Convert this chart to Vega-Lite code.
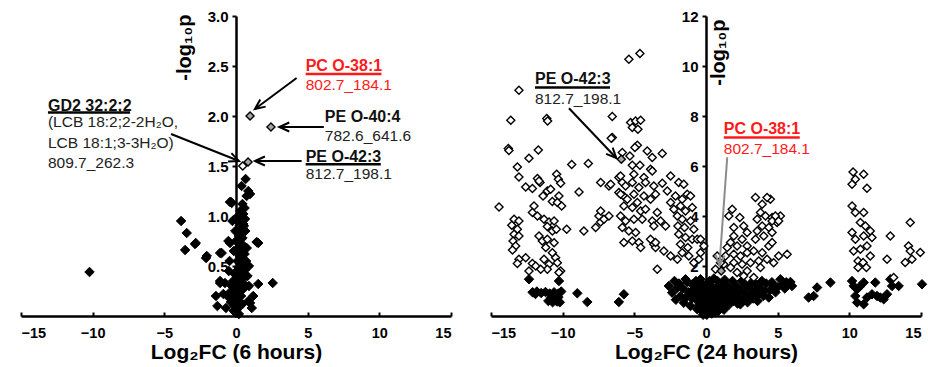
{
  "$schema": "https://vega.github.io/schema/vega-lite/v6.json",
  "padding": {"left": 20, "top": 9, "right": 0, "bottom": 3},
  "bounds": "flush",
  "spacing": 40,
  "config": {
    "view": {"stroke": null},
    "font": "Liberation Sans",
    "axisX": {
      "domainColor": "black", "domainWidth": 2.5, "tickColor": "black", "tickWidth": 2, "tickSize": -4,
      "labelFontSize": 14.5, "labelFontWeight": "bold", "labelColor": "black", "labelPadding": 14,
      "titleFontSize": 21, "titleFontWeight": "bold", "titleColor": "black", "titleY": 42, "titleBaseline": "alphabetic",
      "grid": false, "zindex": 1
    },
    "axisY": {
      "domainColor": "black", "domainWidth": 2.5, "tickColor": "black", "tickWidth": 2, "tickSize": 4,
      "labelFontSize": 15, "labelFontWeight": "bold", "labelColor": "black", "labelPadding": 4,
      "titleFontSize": 20, "titleFontWeight": "bold", "titleColor": "black", "titleAngle": 270,
      "titleAlign": "right", "titleBaseline": "middle", "grid": false, "offset": -215, "zindex": 1
    }
  },
  "datasets": {
    "ns6": [
      {"fc":-10.22,"logp":0.44},{"fc":-3.83,"logp":0.95},{"fc":-3.44,"logp":0.83},{"fc":-2.81,"logp":0.73},{"fc":-3.55,"logp":0.66},
      {"fc":-2.09,"logp":0.58},{"fc":-0.42,"logp":1.14},{"fc":-0.42,"logp":0.73},{"fc":-1.0,"logp":0.63},{"fc":-1.11,"logp":0.33},
      {"fc":-0.88,"logp":0.22},{"fc":0.67,"logp":1.37},{"fc":0.39,"logp":1.3},{"fc":0.86,"logp":1.25},{"fc":0.98,"logp":1.22},
      {"fc":0.74,"logp":1.2},{"fc":-0.35,"logp":1.14},{"fc":0.51,"logp":1.02},{"fc":0.63,"logp":0.97},{"fc":0.51,"logp":0.92},
      {"fc":1.44,"logp":0.74},{"fc":-2.86,"logp":0.72},{"fc":-2.04,"logp":0.6},{"fc":-1.11,"logp":0.63},{"fc":-0.53,"logp":0.75},
      {"fc":1.55,"logp":0.32},{"fc":2.56,"logp":0.33},{"fc":-1.11,"logp":0.35},{"fc":-0.77,"logp":0.33},{"fc":0.86,"logp":0.15},
      {"fc":1.55,"logp":0.73},{"fc":0.98,"logp":0.13},{"fc":-0.3,"logp":1.13},
      {"fc":0.3,"logp":1.05},{"fc":0.35,"logp":0.98},{"fc":0.25,"logp":0.9},{"fc":0.4,"logp":0.85},{"fc":0.2,"logp":0.8},
      {"fc":0.45,"logp":0.78},{"fc":0.3,"logp":0.72},{"fc":0.55,"logp":0.7},{"fc":0.15,"logp":0.68},{"fc":0.35,"logp":0.65},
      {"fc":0.6,"logp":0.62},{"fc":0.25,"logp":0.6},{"fc":0.45,"logp":0.57},{"fc":0.1,"logp":0.55},{"fc":0.7,"logp":0.55},
      {"fc":0.3,"logp":0.52},{"fc":0.5,"logp":0.5},{"fc":0.2,"logp":0.48},{"fc":0.62,"logp":0.46},{"fc":0.05,"logp":0.45},
      {"fc":0.4,"logp":0.43},{"fc":0.28,"logp":0.4},{"fc":-0.1,"logp":0.42},{"fc":0.55,"logp":0.38},{"fc":0.15,"logp":0.37},
      {"fc":-0.2,"logp":0.35},{"fc":0.38,"logp":0.33},{"fc":0.05,"logp":0.32},{"fc":-0.3,"logp":0.3},{"fc":0.25,"logp":0.28},
      {"fc":0.5,"logp":0.27},{"fc":-0.1,"logp":0.25},{"fc":0.12,"logp":0.22},{"fc":-0.4,"logp":0.24},{"fc":0.35,"logp":0.2},
      {"fc":-0.2,"logp":0.18},{"fc":0.02,"logp":0.15},{"fc":0.22,"logp":0.12},{"fc":-0.35,"logp":0.14},{"fc":-0.1,"logp":0.1},
      {"fc":0.1,"logp":0.07},{"fc":0.0,"logp":0.03},{"fc":-0.15,"logp":0.05},{"fc":0.2,"logp":0.02},{"fc":0.65,"logp":0.85},
      {"fc":0.55,"logp":0.9},{"fc":0.1,"logp":0.95},{"fc":-0.05,"logp":0.85},{"fc":0.0,"logp":0.75},{"fc":-0.15,"logp":0.65},
      {"fc":0.75,"logp":0.68},{"fc":0.8,"logp":0.4},{"fc":0.7,"logp":0.3},{"fc":-0.5,"logp":0.45},{"fc":-0.6,"logp":0.2},
      {"fc":0.45,"logp":0.12},{"fc":-0.45,"logp":0.55},{"fc":0.9,"logp":0.5},{"fc":0.15,"logp":1.0},{"fc":-0.25,"logp":0.95},
      {"fc":0.6,"logp":1.08},{"fc":0.45,"logp":1.12},{"fc":-1.4,"logp":0.2},{"fc":-1.3,"logp":0.1},{"fc":1.2,"logp":0.2},
      {"fc":1.1,"logp":0.08},{"fc":-0.7,"logp":0.08},{"fc":0.9,"logp":0.3}
    ],
    "sig6": [{"fc":0.47,"logp":1.5}],
    "hl6": [{"fc":0.98,"logp":2.0},{"fc":2.44,"logp":1.89},{"fc":0.84,"logp":1.54}],
    "arrows6": [
      {"fc":-4.53,"logp":1.82,"fc2":0.21,"logp2":1.55,"tone":"black"},
      {"fc":4.23,"logp":2.38,"fc2":1.32,"logp2":2.07,"tone":"black"},
      {"fc":6.13,"logp":1.89,"fc2":3.02,"logp2":1.89,"tone":"black"},
      {"fc":4.58,"logp":1.55,"fc2":1.32,"logp2":1.55,"tone":"black"}
    ],
    "under6": [
      {"fc":-13.12,"fc2":-7.39,"logp":2.034,"tone":"black"},
      {"fc":4.86,"fc2":10.15,"logp":2.42,"tone":"red"},
      {"fc":4.86,"fc2":10.1,"logp":1.517,"tone":"black"}
    ],
    "head6": [
      {"fc":-13.12,"logp":2.05,"text":"GD2 32:2;2","tone":"black"},
      {"fc":4.86,"logp":2.45,"text":"PC O-38:1","tone":"red"},
      {"fc":6.2,"logp":1.94,"text":"PE O-40:4","tone":"black"},
      {"fc":4.86,"logp":1.544,"text":"PE O-42:3","tone":"black"}
    ],
    "body6": [
      {"fc":-13.12,"logp":1.89,"text":"(LCB 18:2;2-2H₂O,","tone":"black"},
      {"fc":-13.12,"logp":1.684,"text":"LCB 18:1;3-3H₂O)","tone":"black"},
      {"fc":-13.12,"logp":1.484,"text":"809.7_262.3","tone":"black"},
      {"fc":4.86,"logp":2.26,"text":"802.7_184.1","tone":"red"},
      {"fc":6.2,"logp":1.75,"text":"782.6_641.6","tone":"black"},
      {"fc":4.86,"logp":1.367,"text":"812.7_198.1","tone":"black"}
    ],
    "ns24": [
      {"fc":-12.35,"logp":1.47},{"fc":-10.26,"logp":1.4},{"fc":-12.1,"logp":0.95},{"fc":-11.8,"logp":0.98},{"fc":-11.5,"logp":0.92},
      {"fc":-11.2,"logp":0.96},{"fc":-10.9,"logp":0.9},{"fc":-10.6,"logp":0.95},{"fc":-10.3,"logp":0.9},{"fc":-10.1,"logp":0.98},
      {"fc":-11.9,"logp":0.88},{"fc":-11.0,"logp":0.6},{"fc":-10.7,"logp":0.55},{"fc":-10.4,"logp":0.58},{"fc":-10.2,"logp":0.55},
      {"fc":-10.8,"logp":0.75},{"fc":-10.3,"logp":0.75},{"fc":-8.98,"logp":0.91},{"fc":-8.28,"logp":0.56},{"fc":-6.08,"logp":0.56},
      {"fc":-5.73,"logp":0.87},
      {"fc":-2.59,"logp":1.2},{"fc":-2.0,"logp":1.13},{"fc":-2.36,"logp":0.93},{"fc":-1.78,"logp":0.8},{"fc":-1.43,"logp":1.47},
      {"fc":-0.96,"logp":1.27},{"fc":-0.38,"logp":1.47},{"fc":-1.55,"logp":0.53},{"fc":-1.08,"logp":0.4},{"fc":-0.61,"logp":0.27},
      {"fc":-0.38,"logp":0.67},{"fc":-2.2,"logp":1.4},{"fc":-1.9,"logp":1.3},{"fc":-1.6,"logp":1.1},{"fc":-1.3,"logp":1.35},
      {"fc":-1.2,"logp":0.95},{"fc":-0.9,"logp":1.05},{"fc":-0.8,"logp":0.75},{"fc":-0.7,"logp":1.4},{"fc":-0.55,"logp":0.9},
      {"fc":-0.5,"logp":1.15},{"fc":-0.3,"logp":1.3},{"fc":-0.25,"logp":0.95},{"fc":-0.2,"logp":0.55},{"fc":-0.15,"logp":0.35},
      {"fc":-0.1,"logp":0.15},{"fc":-0.45,"logp":0.45},{"fc":-0.3,"logp":0.2},{"fc":-0.05,"logp":1.2},{"fc":0.0,"logp":0.8},
      {"fc":0.05,"logp":0.05},{"fc":0.1,"logp":0.3},{"fc":0.15,"logp":0.55},{"fc":0.2,"logp":1.0},{"fc":0.25,"logp":1.4},
      {"fc":0.3,"logp":0.2},{"fc":0.35,"logp":0.75},{"fc":0.4,"logp":1.2},{"fc":0.45,"logp":0.45},{"fc":0.5,"logp":0.9},
      {"fc":0.55,"logp":1.5},{"fc":0.6,"logp":0.3},{"fc":0.7,"logp":0.65},{"fc":0.75,"logp":1.1},{"fc":0.8,"logp":1.4},
      {"fc":0.9,"logp":0.5},{"fc":0.95,"logp":0.85},{"fc":1.0,"logp":1.25},{"fc":1.1,"logp":0.4},{"fc":1.15,"logp":0.7},
      {"fc":1.2,"logp":1.0},{"fc":1.3,"logp":1.45},{"fc":1.35,"logp":0.55},{"fc":1.45,"logp":0.85},{"fc":1.5,"logp":1.2},
      {"fc":1.6,"logp":0.45},{"fc":1.7,"logp":0.7},{"fc":1.75,"logp":1.05},{"fc":1.85,"logp":1.4},{"fc":1.9,"logp":0.6},
      {"fc":2.0,"logp":0.9},{"fc":2.1,"logp":1.2},{"fc":2.2,"logp":0.5},{"fc":2.3,"logp":0.75},{"fc":2.4,"logp":1.05},
      {"fc":2.5,"logp":1.4},{"fc":2.6,"logp":0.6},{"fc":2.7,"logp":0.9},{"fc":2.8,"logp":1.2},{"fc":2.9,"logp":0.55},
      {"fc":3.0,"logp":0.8},{"fc":3.1,"logp":1.07},{"fc":3.2,"logp":1.35},{"fc":3.3,"logp":0.7},{"fc":3.4,"logp":0.95},
      {"fc":3.5,"logp":1.25},{"fc":3.6,"logp":0.6},{"fc":3.68,"logp":0.87},{"fc":3.8,"logp":1.1},{"fc":3.9,"logp":1.4},
      {"fc":4.0,"logp":0.8},{"fc":4.1,"logp":1.0},{"fc":4.2,"logp":1.3},{"fc":4.38,"logp":0.74},{"fc":4.5,"logp":1.05},
      {"fc":4.6,"logp":1.35},{"fc":4.72,"logp":1.2},{"fc":4.85,"logp":0.95},{"fc":5.0,"logp":1.15},{"fc":5.19,"logp":1.47},
      {"fc":5.3,"logp":1.25},{"fc":5.5,"logp":1.1},{"fc":5.6,"logp":1.35},{"fc":5.89,"logp":1.36},{"fc":6.0,"logp":1.2},
      {"fc":2.4,"logp":0.47},{"fc":1.48,"logp":0.8},{"fc":1.01,"logp":0.53},{"fc":0.31,"logp":0.27},{"fc":0.08,"logp":0.07},
      {"fc":-0.6,"logp":0.6},{"fc":-1.0,"logp":0.7},{"fc":0.65,"logp":0.15},{"fc":0.4,"logp":0.1},{"fc":-0.2,"logp":0.05},
      {"fc":1.25,"logp":0.25},{"fc":0.85,"logp":0.2},{"fc":-1.4,"logp":0.75},{"fc":-2.1,"logp":0.65},
      {"fc":7.16,"logp":0.74},{"fc":7.51,"logp":0.8},{"fc":7.75,"logp":1.14},{"fc":8.68,"logp":1.34},
      {"fc":10.19,"logp":1.4},{"fc":10.3,"logp":1.2},{"fc":10.54,"logp":1.07},{"fc":10.77,"logp":1.2},{"fc":11.0,"logp":1.34},
      {"fc":10.42,"logp":0.8},{"fc":10.54,"logp":0.54},{"fc":11.0,"logp":0.47},{"fc":11.23,"logp":0.74},{"fc":11.58,"logp":0.87},
      {"fc":11.81,"logp":1.34},{"fc":11.93,"logp":0.8},{"fc":12.16,"logp":0.74},{"fc":12.4,"logp":0.67},{"fc":12.63,"logp":0.87},
      {"fc":12.86,"logp":1.47},{"fc":12.98,"logp":1.2},{"fc":13.44,"logp":1.2},{"fc":15.07,"logp":1.27}
    ],
    "sig24": [
      {"fc":-13.05,"logp":9.03},{"fc":-13.62,"logp":7.83},{"fc":-11.11,"logp":7.9},{"fc":-11.05,"logp":7.8},{"fc":-13.79,"logp":6.7},
      {"fc":-13.75,"logp":6.62},{"fc":-11.7,"logp":6.64},{"fc":-12.35,"logp":6.31},{"fc":-13.16,"logp":5.96},{"fc":-13.05,"logp":5.56},
      {"fc":-12.58,"logp":5.16},{"fc":-11.76,"logp":5.5},{"fc":-11.58,"logp":5.34},{"fc":-10.42,"logp":5.67},{"fc":-10.3,"logp":5.47},
      {"fc":-10.14,"logp":5.31},{"fc":-9.37,"logp":6.06},{"fc":-8.21,"logp":6.1},{"fc":-8.86,"logp":4.96},{"fc":-7.35,"logp":5.34},
      {"fc":-6.77,"logp":5.2},{"fc":-14.44,"logp":4.36},{"fc":-11.07,"logp":5.0},{"fc":-11.37,"logp":4.8},{"fc":-10.72,"logp":4.58},
      {"fc":-10.26,"logp":4.8},{"fc":-10.37,"logp":4.54},{"fc":-10.07,"logp":4.4},{"fc":-12.0,"logp":4.4},{"fc":-12.11,"logp":4.14},
      {"fc":-11.76,"logp":4.0},{"fc":-13.39,"logp":3.87},{"fc":-13.05,"logp":3.8},{"fc":-13.55,"logp":3.63},{"fc":-13.16,"logp":3.47},
      {"fc":-13.39,"logp":3.27},{"fc":-13.05,"logp":3.2},{"fc":-13.46,"logp":3.0},{"fc":-13.28,"logp":2.8},{"fc":-13.5,"logp":2.64},
      {"fc":-13.05,"logp":2.27},{"fc":-12.58,"logp":2.33},{"fc":-13.16,"logp":2.1},{"fc":-12.11,"logp":2.1},{"fc":-11.3,"logp":3.87},
      {"fc":-10.95,"logp":3.76},{"fc":-10.6,"logp":3.8},{"fc":-11.07,"logp":3.58},{"fc":-10.72,"logp":3.4},{"fc":-10.44,"logp":3.47},
      {"fc":-11.65,"logp":3.2},{"fc":-11.42,"logp":3.0},{"fc":-11.07,"logp":3.07},{"fc":-10.6,"logp":2.93},{"fc":-11.18,"logp":2.74},
      {"fc":-10.72,"logp":2.53},{"fc":-10.49,"logp":2.33},{"fc":-11.3,"logp":2.27},{"fc":-10.95,"logp":2.07},{"fc":-10.37,"logp":2.13},
      {"fc":-11.07,"logp":1.87},{"fc":-10.14,"logp":1.8},{"fc":-9.72,"logp":3.47},{"fc":-8.52,"logp":3.4},{"fc":-7.7,"logp":3.54},
      {"fc":-7.35,"logp":3.76},{"fc":-7.47,"logp":4.0},{"fc":-7.12,"logp":3.87},{"fc":-7.35,"logp":4.2},{"fc":-12.35,"logp":1.8},
      {"fc":-11.88,"logp":2.0},{"fc":-11.53,"logp":1.87},{"fc":-10.26,"logp":1.74},{"fc":-6.77,"logp":4.0},{"fc":-12.11,"logp":5.1},
      {"fc":-11.65,"logp":5.4},{"fc":-10.84,"logp":5.07},{"fc":-6.65,"logp":5.27},{"fc":-6.08,"logp":5.54},{"fc":-5.84,"logp":5.34},
      {"fc":-6.08,"logp":4.94},{"fc":-5.75,"logp":4.8},{"fc":-6.54,"logp":7.14},
      {"fc":-5.38,"logp":10.27},{"fc":-4.61,"logp":10.5},{"fc":-6.54,"logp":7.98},{"fc":-5.26,"logp":7.74},{"fc":-4.91,"logp":7.8},
      {"fc":-4.56,"logp":7.83},{"fc":-5.14,"logp":7.54},{"fc":-4.75,"logp":7.47},{"fc":-6.61,"logp":7.11},{"fc":-5.84,"logp":6.54},
      {"fc":-5.31,"logp":6.4},{"fc":-4.79,"logp":6.83},{"fc":-4.96,"logp":6.74},{"fc":-4.1,"logp":6.6},{"fc":-3.75,"logp":6.34},
      {"fc":-3.05,"logp":6.5},{"fc":-5.14,"logp":6.03},{"fc":-4.61,"logp":6.03},{"fc":-3.87,"logp":5.87},{"fc":-5.96,"logp":5.6},
      {"fc":-5.03,"logp":5.67},{"fc":-4.33,"logp":5.54},{"fc":-3.75,"logp":5.8},{"fc":-2.47,"logp":5.6},{"fc":-1.9,"logp":5.34},
      {"fc":-1.55,"logp":5.27},{"fc":-5.61,"logp":5.2},{"fc":-5.14,"logp":5.34},{"fc":-4.68,"logp":5.14},{"fc":-4.22,"logp":5.34},
      {"fc":-3.64,"logp":5.2},{"fc":-3.05,"logp":5.31},{"fc":-2.7,"logp":5.0},{"fc":-5.96,"logp":4.87},{"fc":-5.49,"logp":4.67},
      {"fc":-5.03,"logp":4.87},{"fc":-4.79,"logp":4.54},{"fc":-4.33,"logp":4.8},{"fc":-3.87,"logp":4.67},{"fc":-3.52,"logp":4.87},
      {"fc":-5.73,"logp":4.4},{"fc":-5.14,"logp":4.34},{"fc":-4.56,"logp":4.2},{"fc":-4.22,"logp":4.27},{"fc":-2.47,"logp":4.54},
      {"fc":-2.13,"logp":4.8},{"fc":-1.66,"logp":4.67},{"fc":-1.31,"logp":4.87},{"fc":-2.24,"logp":4.27},{"fc":-1.78,"logp":4.4},
      {"fc":-1.43,"logp":4.2},{"fc":-0.96,"logp":4.34},{"fc":-5.96,"logp":4.0},{"fc":-5.61,"logp":3.8},{"fc":-5.03,"logp":3.87},
      {"fc":-4.45,"logp":3.87},{"fc":-3.75,"logp":3.8},{"fc":-3.64,"logp":3.6},{"fc":-5.84,"logp":3.54},{"fc":-5.38,"logp":3.4},
      {"fc":-4.91,"logp":3.34},{"fc":-5.73,"logp":2.94},{"fc":-5.14,"logp":3.0},{"fc":-4.68,"logp":2.94},{"fc":-4.56,"logp":2.74},
      {"fc":-3.64,"logp":2.87},{"fc":-3.52,"logp":2.74},{"fc":-2.94,"logp":2.6},{"fc":-2.47,"logp":2.4},{"fc":-2.0,"logp":4.0},
      {"fc":-1.66,"logp":3.87},{"fc":-1.08,"logp":3.8},{"fc":-1.96,"logp":3.6},{"fc":-1.5,"logp":3.54},{"fc":-0.85,"logp":3.47},
      {"fc":-1.9,"logp":3.27},{"fc":-1.43,"logp":3.14},{"fc":-0.96,"logp":3.07},{"fc":-0.61,"logp":3.07},{"fc":-1.78,"logp":2.87},
      {"fc":-1.27,"logp":2.74},{"fc":-1.66,"logp":2.53},{"fc":-1.2,"logp":2.4},{"fc":-2.0,"logp":2.27},{"fc":-3.4,"logp":1.87},
      {"fc":-0.38,"logp":3.07},{"fc":-0.15,"logp":2.8},{"fc":-0.38,"logp":2.53},{"fc":-0.85,"logp":2.13},{"fc":-0.5,"logp":2.27},
      {"fc":-3.4,"logp":4.14},{"fc":-3.17,"logp":3.8},{"fc":-2.82,"logp":3.6},{"fc":-3.87,"logp":3.07},{"fc":-3.52,"logp":2.94},
      {"fc":-1.08,"logp":4.8},
      {"fc":3.45,"logp":4.74},{"fc":3.92,"logp":4.47},{"fc":4.49,"logp":4.67},{"fc":1.83,"logp":4.27},{"fc":2.36,"logp":3.94},
      {"fc":1.59,"logp":4.0},{"fc":3.8,"logp":4.14},{"fc":4.15,"logp":4.0},{"fc":3.57,"logp":3.87},{"fc":4.61,"logp":3.94},
      {"fc":5.19,"logp":4.0},{"fc":4.96,"logp":3.74},{"fc":3.92,"logp":3.6},{"fc":4.38,"logp":3.54},{"fc":3.57,"logp":3.4},
      {"fc":4.61,"logp":3.34},{"fc":4.03,"logp":3.2},{"fc":3.45,"logp":3.07},{"fc":1.94,"logp":3.2},{"fc":2.52,"logp":3.07},
      {"fc":1.71,"logp":2.94},{"fc":2.17,"logp":2.8},{"fc":2.87,"logp":2.8},{"fc":1.48,"logp":2.74},{"fc":1.36,"logp":2.4},
      {"fc":1.94,"logp":2.47},{"fc":2.4,"logp":2.4},{"fc":2.87,"logp":2.53},{"fc":3.33,"logp":2.6},{"fc":3.92,"logp":2.53},
      {"fc":4.38,"logp":2.8},{"fc":4.61,"logp":2.94},{"fc":5.66,"logp":2.47},{"fc":5.07,"logp":2.4},{"fc":1.94,"logp":2.13},
      {"fc":2.52,"logp":2.07},{"fc":3.1,"logp":2.13},{"fc":3.68,"logp":2.2},{"fc":4.26,"logp":2.27},{"fc":4.72,"logp":2.13},
      {"fc":3.8,"logp":1.94},{"fc":2.87,"logp":1.8},{"fc":2.17,"logp":1.74},{"fc":1.71,"logp":1.94},{"fc":1.24,"logp":2.07},
      {"fc":0.78,"logp":2.4},{"fc":1.01,"logp":2.13},{"fc":0.66,"logp":1.87},{"fc":2.63,"logp":1.6},{"fc":3.33,"logp":1.54},
      {"fc":4.84,"logp":4.0},{"fc":4.61,"logp":3.8},{"fc":5.07,"logp":3.8},{"fc":1.94,"logp":3.54},{"fc":2.63,"logp":3.6},
      {"fc":2.87,"logp":3.34},{"fc":4.26,"logp":4.74},
      {"fc":10.26,"logp":5.76},{"fc":11.0,"logp":5.67},{"fc":10.42,"logp":5.47},{"fc":10.19,"logp":5.27},{"fc":11.23,"logp":5.11},
      {"fc":10.19,"logp":4.4},{"fc":10.42,"logp":4.14},{"fc":11.0,"logp":4.14},{"fc":10.77,"logp":3.74},{"fc":11.12,"logp":3.6},
      {"fc":11.46,"logp":3.4},{"fc":11.58,"logp":3.14},{"fc":10.19,"logp":3.34},{"fc":10.42,"logp":3.07},{"fc":11.0,"logp":3.2},
      {"fc":10.3,"logp":2.6},{"fc":10.77,"logp":2.67},{"fc":11.23,"logp":2.8},{"fc":11.46,"logp":2.4},{"fc":10.61,"logp":2.2},
      {"fc":10.96,"logp":2.14},{"fc":11.19,"logp":1.94},{"fc":10.61,"logp":1.94},
      {"fc":14.25,"logp":3.74},{"fc":12.86,"logp":3.2},{"fc":14.13,"logp":2.8},{"fc":14.25,"logp":2.6},{"fc":14.95,"logp":2.54},
      {"fc":13.9,"logp":2.14},{"fc":14.37,"logp":2.27},{"fc":12.63,"logp":2.27},{"fc":13.09,"logp":1.54}
    ],
    "hl24": [{"fc":-5.91,"logp":6.27},{"fc":1.06,"logp":1.8}],
    "arrows24": [
      {"fc":-9.56,"logp":8.31,"fc2":-6.26,"logp2":6.32,"tone":"black"},
      {"fc":1.48,"logp":6.35,"fc2":0.94,"logp2":2.03,"tone":"gray"}
    ],
    "under24": [
      {"fc":-11.93,"fc2":-6.7,"logp":9.14,"tone":"black"},
      {"fc":1.24,"fc2":6.54,"logp":7.136,"tone":"red"}
    ],
    "head24": [
      {"fc":-11.93,"logp":9.27,"text":"PE O-42:3","tone":"black"},
      {"fc":1.24,"logp":7.27,"text":"PC O-38:1","tone":"red"}
    ],
    "body24": [
      {"fc":-11.93,"logp":8.47,"text":"812.7_198.1","tone":"black"},
      {"fc":1.24,"logp":6.5,"text":"802.7_184.1","tone":"red"}
    ]
  },
  "hconcat": [
    {
      "width": 430, "height": 300,
      "encoding": {
        "x": {"field": "fc", "type": "quantitative", "scale": {"domain": [-15, 15], "nice": false, "zero": false}, "axis": {"title": "Log₂FC (6 hours)", "values": [-15, -10, -5, 0, 5, 10, 15]}},
        "y": {"field": "logp", "type": "quantitative", "scale": {"domain": [0, 3], "nice": false}, "axis": {"title": "-log₁₀p", "values": [0.5, 1, 1.5, 2, 2.5, 3], "format": ".1f", "titleX": -52, "titleY": -2}}
      },
      "layer": [
        {"data": {"name": "ns6"}, "mark": {"type": "point", "shape": "diamond", "filled": true, "size": 90, "color": "black", "stroke": "black", "strokeWidth": 1, "opacity": 1}},
        {"data": {"name": "sig6"}, "mark": {"type": "point", "shape": "diamond", "filled": true, "fill": "white", "stroke": "black", "strokeWidth": 1.4, "size": 65, "opacity": 1}},
        {"data": {"name": "hl6"}, "mark": {"type": "point", "shape": "diamond", "filled": true, "fill": "#a6a6a6", "stroke": "black", "strokeWidth": 1.4, "size": 65, "opacity": 1}},
        {"data": {"name": "arrows6"}, "mark": {"type": "rule", "strokeWidth": 2},
         "encoding": {"x2": {"field": "fc2"}, "y2": {"field": "logp2"},
           "color": {"condition": {"test": "datum.tone === 'gray'", "value": "#8c8c8c"}, "value": "black"}}},
        {"data": {"name": "arrows6"}, "transform": [{"calculate": "atan2((datum.fc2 - datum.fc) * 14.33, (datum.logp2 - datum.logp) * 100) * 180 / PI", "as": "angle"}],
         "mark": {"type": "point", "shape": "M -0.45 1 L 0 0 L 0.45 1", "filled": false, "size": 400, "strokeWidth": 2, "opacity": 1},
         "encoding": {"x": {"field": "fc2", "type": "quantitative"}, "y": {"field": "logp2", "type": "quantitative"},
           "angle": {"field": "angle", "type": "quantitative", "scale": null},
           "color": {"condition": {"test": "datum.tone === 'gray'", "value": "#8c8c8c"}, "value": "black"}}},
        {"data": {"name": "under6"}, "mark": {"type": "rule", "strokeWidth": 2.5},
         "encoding": {"x2": {"field": "fc2"},
           "color": {"condition": {"test": "datum.tone === 'red'", "value": "#ff1a1a"}, "value": "black"}}},
        {"data": {"name": "head6"}, "mark": {"type": "text", "align": "left", "baseline": "alphabetic", "fontSize": 16, "fontWeight": "bold"},
         "encoding": {"text": {"field": "text"},
           "color": {"condition": {"test": "datum.tone === 'red'", "value": "#ff1a1a"}, "value": "#111111"}}},
        {"data": {"name": "body6"}, "mark": {"type": "text", "align": "left", "baseline": "alphabetic", "fontSize": 15.5},
         "encoding": {"text": {"field": "text"},
           "color": {"condition": {"test": "datum.tone === 'red'", "value": "#ff1a1a"}, "value": "#222222"}}}
      ]
    },
    {
      "width": 430, "height": 300,
      "encoding": {
        "x": {"field": "fc", "type": "quantitative", "scale": {"domain": [-15, 15], "nice": false, "zero": false}, "axis": {"title": "Log₂FC (24 hours)", "values": [-15, -10, -5, 0, 5, 10, 15]}},
        "y": {"field": "logp", "type": "quantitative", "scale": {"domain": [0, 12], "nice": false}, "axis": {"title": "-log₁₀p", "values": [2, 4, 6, 8, 10, 12], "format": "d", "titleX": 12, "titleY": 3}}
      },
      "layer": [
        {"data": {"name": "ns24"}, "mark": {"type": "point", "shape": "diamond", "filled": true, "size": 90, "color": "black", "stroke": "black", "strokeWidth": 1, "opacity": 1}},
        {"data": {"name": "sig24"}, "mark": {"type": "point", "shape": "diamond", "filled": true, "fill": "white", "stroke": "black", "strokeWidth": 1.4, "size": 65, "opacity": 1}},
        {"data": {"name": "hl24"}, "mark": {"type": "point", "shape": "diamond", "filled": true, "fill": "#a6a6a6", "stroke": "black", "strokeWidth": 1.4, "size": 65, "opacity": 1}},
        {"data": {"name": "arrows24"}, "mark": {"type": "rule", "strokeWidth": 2},
         "encoding": {"x2": {"field": "fc2"}, "y2": {"field": "logp2"},
           "color": {"condition": {"test": "datum.tone === 'gray'", "value": "#8c8c8c"}, "value": "black"}}},
        {"data": {"name": "arrows24"}, "transform": [{"calculate": "atan2((datum.fc2 - datum.fc) * 14.33, (datum.logp2 - datum.logp) * 25) * 180 / PI", "as": "angle"}],
         "mark": {"type": "point", "shape": "M -0.45 1 L 0 0 L 0.45 1", "filled": false, "size": 400, "strokeWidth": 2, "opacity": 1},
         "encoding": {"x": {"field": "fc2", "type": "quantitative"}, "y": {"field": "logp2", "type": "quantitative"},
           "angle": {"field": "angle", "type": "quantitative", "scale": null},
           "color": {"condition": {"test": "datum.tone === 'gray'", "value": "#8c8c8c"}, "value": "black"}}},
        {"data": {"name": "under24"}, "mark": {"type": "rule", "strokeWidth": 2.5},
         "encoding": {"x2": {"field": "fc2"},
           "color": {"condition": {"test": "datum.tone === 'red'", "value": "#ff1a1a"}, "value": "black"}}},
        {"data": {"name": "head24"}, "mark": {"type": "text", "align": "left", "baseline": "alphabetic", "fontSize": 16, "fontWeight": "bold"},
         "encoding": {"text": {"field": "text"},
           "color": {"condition": {"test": "datum.tone === 'red'", "value": "#ff1a1a"}, "value": "#111111"}}},
        {"data": {"name": "body24"}, "mark": {"type": "text", "align": "left", "baseline": "alphabetic", "fontSize": 15.5},
         "encoding": {"text": {"field": "text"},
           "color": {"condition": {"test": "datum.tone === 'red'", "value": "#ff1a1a"}, "value": "#222222"}}}
      ]
    }
  ]
}
